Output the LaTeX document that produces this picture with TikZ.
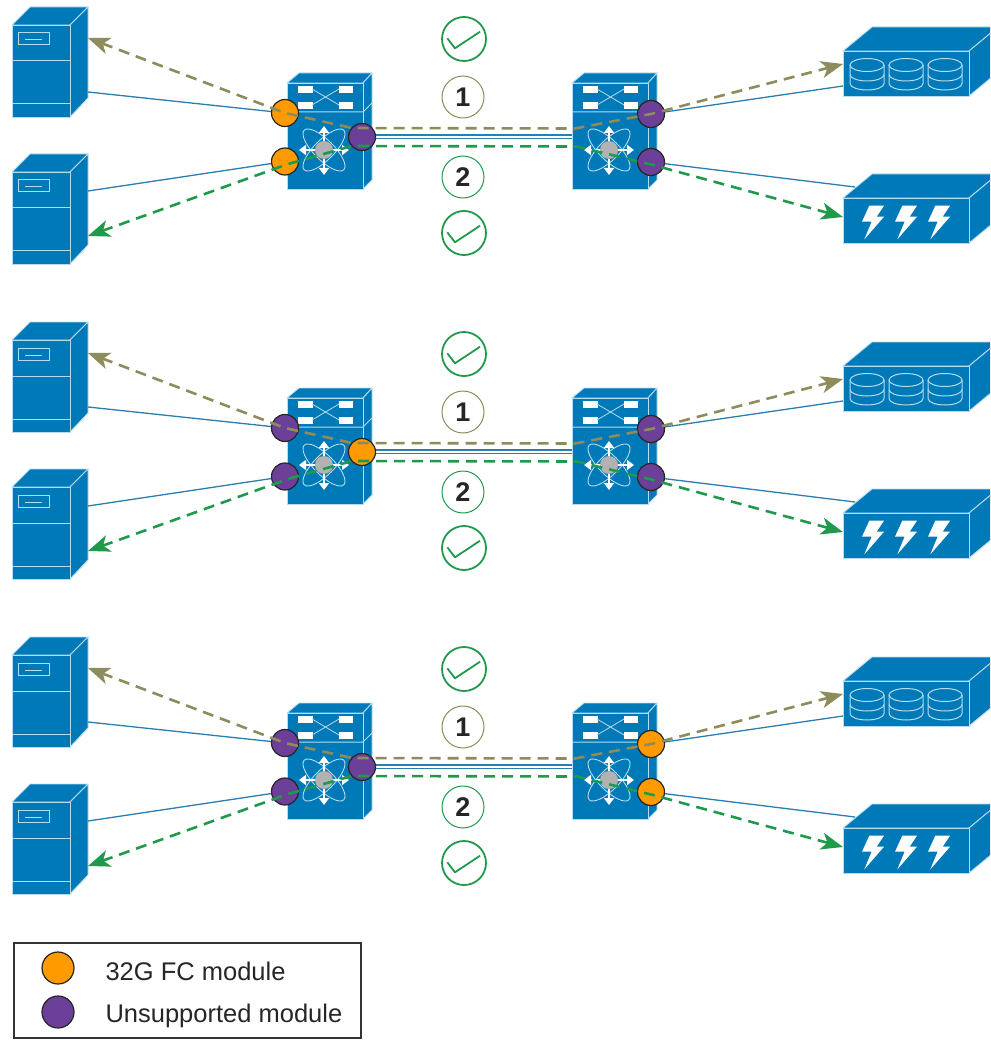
\documentclass[tikz,border=0pt]{standalone}
\usepackage{fontspec}
\setmainfont{Liberation Sans}
\usetikzlibrary{arrows.meta}

\definecolor{boxblue}{HTML}{0079B8}
\definecolor{paleblue}{HTML}{B5DCEE}
\definecolor{linkblue}{HTML}{2A7FB0}
\definecolor{flowolive}{HTML}{8E8B5C}
\definecolor{flowgreen}{HTML}{1F9A4C}
\definecolor{modorange}{HTML}{FF9A00}
\definecolor{modpurple}{HTML}{6C3F99}

\tikzset{
    boxface/.style={fill=boxblue,draw=paleblue,line width=0.9pt,line join=round},
    boxline/.style={draw=paleblue,line width=1pt},
    bluelink/.style={draw=linkblue,line width=1.3pt},
    oliveflow/.style={draw=flowolive,line width=2.6pt,dash pattern=on 11pt off 7pt,
        {Stealth[length=22pt,width=17pt,inset=6pt]}-{Stealth[length=22pt,width=17pt,inset=6pt]}},
    greenflow/.style={draw=flowgreen,line width=2.6pt,dash pattern=on 11pt off 7pt,
        {Stealth[length=22pt,width=17pt,inset=6pt]}-{Stealth[length=22pt,width=17pt,inset=6pt]}},
    module/.style={circle,draw=black!85,line width=1.2pt,minimum size=27pt,inner sep=0pt},
    orangemod/.style={module,fill=modorange},
    purplemod/.style={module,fill=modpurple},
    okring/.style={circle,draw=flowgreen,line width=1.8pt,minimum size=44pt,inner sep=0pt},
    numring/.style={circle,line width=1pt,minimum size=42pt,inner sep=0pt,
        font=\fontsize{27}{27}\selectfont\bfseries,text=black!85},
    legendtext/.style={anchor=west,font=\fontsize{25.5}{30}\selectfont,text=black!85},
    hostbox/.pic={
        \filldraw[boxface] (0,18) -- (18,0) -- (76,0) -- (58,18) -- cycle;
        \filldraw[boxface] (58,18) -- (76,0) -- (76,91) -- (58,110) -- cycle;
        \filldraw[boxface] (0,18) rectangle (58,110);
        \draw[boxline] (0,54) -- (58,54);
        \draw[boxline] (0,97) -- (58,97);
        \draw[boxline] (6,26) rectangle (37,38);
        \draw[boxline] (13,33) -- (30,33);
    },
    switchbox/.pic={
        \filldraw[boxface] (0,10) -- (12,0) -- (85,0) -- (76,10) -- cycle;
        \filldraw[boxface] (76,10) -- (85,0) -- (85,107) -- (76,116) -- cycle;
        \filldraw[boxface] (0,10) rectangle (76,116);
        \draw[boxline] (0,39) -- (76,39) -- (85,30);
        %crossbar
        \filldraw[white] (11,13) rectangle (25,19);
        \filldraw[white] (11,29) rectangle (25,35);
        \filldraw[white] (52,13) rectangle (65,19);
        \filldraw[white] (52,29) rectangle (65,35);
        \draw[paleblue,line width=0.8pt] (25,16) -- (52,32);
        \draw[paleblue,line width=0.8pt] (25,32) -- (52,16);
        %atom
        \draw[paleblue,line width=0.9pt,rotate around={45:(37,77)}] (37,77) ellipse[x radius=28,y radius=10];
        \draw[paleblue,line width=0.9pt,rotate around={-45:(37,77)}] (37,77) ellipse[x radius=28,y radius=10];
        \draw[white,line width=1.8pt,{Triangle[length=7pt,width=10pt]}-{Triangle[length=7pt,width=10pt]}] (37,53) -- (37,102);
        \draw[white,line width=1.8pt,{Triangle[length=7pt,width=10pt]}-{Triangle[length=7pt,width=10pt]}] (12,77) -- (62,77);
        \fill[black!30] (37,77) circle[radius=9];
    },
    storebox/.pic={
        \filldraw[boxface] (0,24) -- (29,0) -- (155,0) -- (126,24) -- cycle;
        \filldraw[boxface] (126,24) -- (155,0) -- (155,45) -- (126,69) -- cycle;
        \filldraw[boxface] (0,24) rectangle (126,69);
    },
    diskstack/.pic={
        \draw[boxline] (-17,0) -- (-17,18.5) arc[start angle=180,end angle=0,x radius=17,y radius=6.5] -- (17,0);
        \draw[boxline] (-17,9.5) arc[start angle=180,end angle=0,x radius=17,y radius=6.5];
        \draw[boxline] (0,0) ellipse[x radius=17,y radius=6.5];
    },
    boltmark/.pic={
        \fill[white] (-4,-16) -- (10.7,-16) -- (3.3,-5) -- (10.7,-5) -- (-9,17.7) -- (-1.7,0) -- (-11.3,0) -- cycle;
    },
    okbadge/.pic={
        \node[okring] (ring) at (0,0) {};
        \draw[flowgreen,line width=1.8pt,line join=round] (-16.7,-0.7) -- (-9,9.3) -- (16,-7.3);
    },
}

\begin{document}
\begin{tikzpicture}[x=1pt,y=-1pt]
    \clip (0,0) rectangle (990,1040);
    \fill[white] (0,0) rectangle (990,1040);

    \foreach \r/\ma/\mb/\mc/\md/\me in {0/orange/orange/purple/purple/purple,
                                        1/purple/purple/orange/purple/purple,
                                        2/purple/purple/purple/orange/orange}{
    \begin{scope}[yshift=-\r*315pt]
        %hosts, switches, storage
        \pic at (12,7) {hostbox};
        \pic at (12,154) {hostbox};
        \pic at (287,73) {switchbox};
        \pic at (572,73) {switchbox};
        \pic at (843,27) {storebox};
        \pic at (843,174) {storebox};
        \foreach \d in {867,906,945} \pic at (\d,65) {diskstack};
        \foreach \d in {873.3,906.3,939.3} \pic at (\d,221.7) {boltmark};

        %free ends
        \coordinate (hostlinka\r) at (88,92);
        \coordinate (hostlinkb\r) at (88,191);
        \coordinate (storelinka\r) at (843,86);
        \coordinate (storelinkb\r) at (855,187);
        \coordinate (hosttipa\r) at (88,38);
        \coordinate (hosttipb\r) at (88,236);
        \coordinate (storetipa\r) at (843,64);
        \coordinate (storetipb\r) at (843,217);
        \coordinate (isla\r) at (362,135);
        \coordinate (islb\r) at (362,138.5);
        \coordinate (isra\r) at (572,135);
        \coordinate (isrb\r) at (572,138.5);
        \coordinate (bendoa\r) at (352,128);
        \coordinate (bendob\r) at (575,128.5);
        \coordinate (bendga\r) at (288,164);
        \coordinate (bendgb\r) at (352,146);
        \coordinate (bendgc\r) at (577,146.5);
        \coordinate (bendgd\r) at (653,165);

        %links
        \draw[bluelink] (isla\r) -- (isra\r);
        \draw[bluelink] (islb\r) -- (isrb\r);

        %modules
        \node[\ma mod] (mod1\r) at (285,113) {};
        \node[\mb mod] (mod2\r) at (285,161.5) {};
        \node[\mc mod] (mod3\r) at (362,137) {};
        \node[\md mod] (mod4\r) at (651,114) {};
        \node[\me mod] (mod5\r) at (651,162) {};

        \draw[bluelink] (hostlinka\r) -- (mod1\r);
        \draw[bluelink] (hostlinkb\r) -- (mod2\r);
        \draw[bluelink] (storelinka\r) -- (mod4\r);
        \draw[bluelink] (storelinkb\r) -- (mod5\r);

        %flows
        \draw[oliveflow] (hosttipa\r) -- (mod1\r.center) -- (bendoa\r) -- (bendob\r) -- (mod4\r.center) -- (storetipa\r);
        \draw[greenflow] (hosttipb\r) -- (bendga\r) -- (bendgb\r) -- (bendgc\r) -- (bendgd\r) -- (storetipb\r);

        %badges
        \pic at (464,39) {okbadge};
        \node[numring,draw=flowolive] (numa\r) at (463,97) {1};
        \node[numring,draw=flowgreen] (numb\r) at (463,177) {2};
        \pic at (464,233) {okbadge};
    \end{scope}
    }

    %legend
    \draw[black!80,line width=1.2pt] (14,943) rectangle (361,1038);
    \node[orangemod,minimum size=32pt] (keya) at (58,968) {};
    \node[purplemod,minimum size=32pt] (keyb) at (58,1012) {};
    \node[legendtext] (keytexta) at (102,971) {32G FC module};
    \node[legendtext] (keytextb) at (102,1016) {Unsupported module};
\end{tikzpicture}
\end{document}
